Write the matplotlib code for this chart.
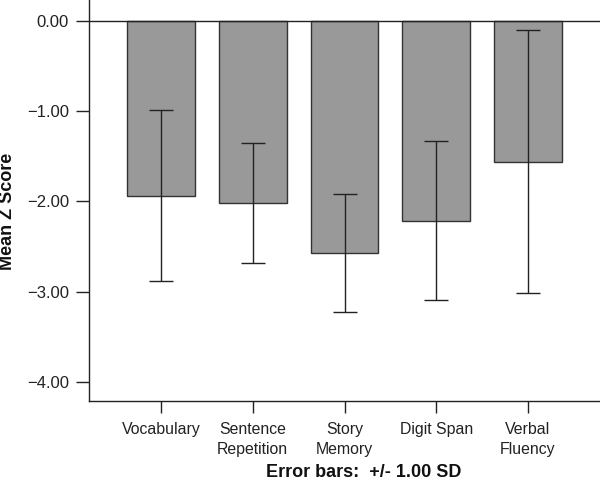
import matplotlib
matplotlib.use("Agg")
import matplotlib.pyplot as plt
import numpy as np

categories = ["Vocabulary", "Sentence\nRepetition", "Story\nMemory", "Digit Span", "Verbal\nFluency"]
means = [-1.935, -2.017, -2.57, -2.211, -1.56]
sds = [0.95, 0.67, 0.653, 0.882, 1.455]
yticks = [0.0, -1.0, -2.0, -3.0, -4.0]
ytick_labels = ["0.00", "\u22121.00", "\u22122.00", "\u22123.00", "\u22124.00"]

plt.rcParams['font.family'] = ['Liberation Sans', 'DejaVu Sans']

fig = plt.figure(figsize=(6, 4.86), dpi=100)
ax = fig.add_axes([89/600, 1 - 401/486, 1 - 89/600, 401/486])

x = np.arange(len(categories))
ax.bar(x, means, width=0.74, color="#999999", edgecolor="#333333", linewidth=1.0, zorder=2)
ax.errorbar(x, means, yerr=sds, fmt="none", ecolor="#222222", elinewidth=1.0,
            capsize=8.9, capthick=1.0, zorder=3)
ax.axhline(0, color="#222222", linewidth=1.0, zorder=4)

ax.set_xlim(-0.785, 4.785)
ax.set_ylim(-4.211, 0.233)
ax.set_yticks(yticks)
ax.set_yticklabels(ytick_labels)
ax.set_xticks(x)
ax.set_xticklabels(categories)
for lab in ax.get_xticklabels():
    lab.set_linespacing(1.45)

for s in ["top", "right"]:
    ax.spines[s].set_visible(False)
for s in ["left", "bottom"]:
    ax.spines[s].set_linewidth(1.0)
    ax.spines[s].set_color("#222222")

ax.tick_params(axis="y", length=9.4, width=1.0, color="#222222", labelsize=12, labelcolor="#222222", pad=5)
ax.tick_params(axis="x", length=8.6, width=1.0, color="#222222", labelsize=11.4, labelcolor="#222222", pad=6.5)

fig.text(364/600, 1 - 472/486, "Error bars:  +/- 1.00 SD", ha="center", va="center",
         fontsize=13, fontweight="bold", color="#111111")
fig.text(8/600, 1 - 211/486, "Mean Z Score", ha="center", va="center", rotation=90,
         fontsize=13, fontweight="bold", color="#111111")

fig.savefig("out.png", dpi=100)
